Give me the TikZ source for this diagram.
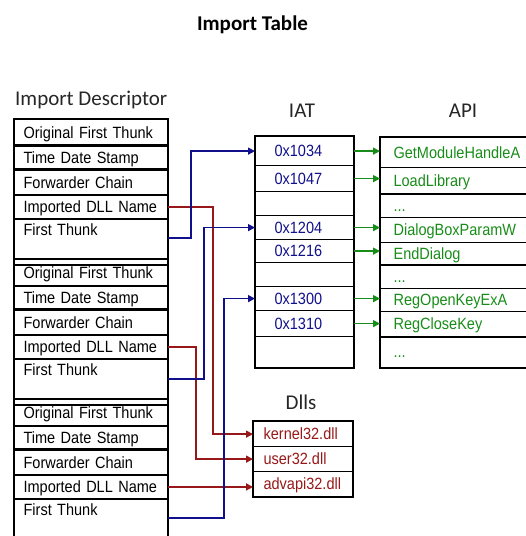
\documentclass[tikz,border=0pt]{standalone}
\usepackage{fontspec}
\usepackage{tikz}
\usetikzlibrary{arrows.meta}
\newfontfamily\cellfont[FakeStretch=0.89]{Liberation Sans}
\newfontfamily\headfont{Carlito}
\definecolor{thunkblue}{RGB}{16,16,140}
\definecolor{namered}{RGB}{150,24,24}
\definecolor{ptrgreen}{RGB}{24,140,24}
\newcommand{\apimore}{...}

\begin{document}
\begin{tikzpicture}[x=1bp,y=-1bp,
  cell/.style={draw,line width=1.2bp,anchor=north west,inner ysep=0pt,align=left,
    text height=11.7bp,text depth=0pt,font=\cellfont\fontsize{16.3bp}{18bp}\selectfont},
  field/.style={cell,text width=135bp,inner xsep=9bp},
  slot/.style={cell,text width=60bp,inner xsep=19bp,text=thunkblue},
  entry/.style={cell,text width=150bp,inner xsep=13bp,text=ptrgreen},
  lib/.style={cell,text width=79bp,inner xsep=10bp,text=namered},
  frame/.style={draw,line width=2.2bp},
  heading/.style={font=\headfont\fontsize{21bp}{24bp}\selectfont,text=black!85,anchor=base,inner sep=0pt},
  thunk/.style={draw=thunkblue,line width=1.5bp,-{Triangle[length=7bp,width=7bp]}},
  dllref/.style={thunk,draw=namered},
  ptr/.style={thunk,draw=ptrgreen}]
\useasboundingbox (0,0) rectangle (526,536);
\clip (0,0) rectangle (526,536);
\node[heading,font=\headfont\bfseries\fontsize{21bp}{24bp}\selectfont,text=black] (title) at (252.5,31) {Import Table};
\node[heading,anchor=base west] (desclabel) at (15,106) {Import Descriptor};
\node[heading] (iatlabel) at (302,118) {IAT};
\node[heading] (apilabel) at (463,118) {API};
\node[heading] (dlllabel) at (301,409) {Dlls};
% import descriptors
\foreach \b/\top in {1/119,2/259,3/399} {
  \node[field,minimum height=25.5bp] (oft\b) at (14,\top) {Original First Thunk};
  \node[field,minimum height=22.5bp] (tds\b) at (oft\b.south west) {Time Date Stamp};
  \node[field,minimum height=24.5bp] (fwc\b) at (tds\b.south west) {Forwarder Chain};
  \node[field,minimum height=22.5bp] (dln\b) at (fwc\b.south west) {Imported DLL Name};
  \node[field,minimum height=45bp,text depth=23.8bp] (ft\b) at (dln\b.south west) {First Thunk};
  \draw[frame] (oft\b.north west) rectangle (ft\b.south east);
}
% IAT
\foreach \t/\h/\s [count=\i] in {136/29/0x1034,165/26/0x1047,191/24/{},215/24/0x1204,
    239/23/0x1216,262/24/{},286/24/0x1300,310/26/0x1310,336/31/{}}
  \node[slot,minimum height=\h bp] (iat\i) at (255,\t) {\s};
\draw[frame] (iat1.north west) rectangle (iat9.south east);
% API
\foreach \t/\h/\s [count=\i] in {137/30/GetModuleHandleA,167/26/LoadLibrary,193/24/\apimore,
    217/25/DialogBoxParamW,242/22/EndDialog,264/24/\apimore,288/23/RegOpenKeyExA,
    311/25/RegCloseKey,336/31/\apimore}
  \node[entry,minimum height=\h bp] (api\i) at (380,\t) {\s};
\draw[frame] (api1.north west) rectangle (api9.south east);
\foreach \i in {2,5,8}
  \draw[frame] (api\i.south west) -- (api\i.south east);
% Dlls
\foreach \t/\s [count=\i] in {421/kernel32.dll,446/user32.dll,471/advapi32.dll}
  \node[lib,minimum height=25bp] (dll\i) at (253,\t) {\s};
\draw[frame] (dll1.north west) rectangle (dll3.south east);
% connectors
\draw[dllref] (dln1.east) -- ++(45,0) |- (dll1.west);
\draw[dllref] (dln2.east) -- ++(28,0) |- (dll2.west);
\draw[dllref] (dln3.east) -- (dln3.east -| dll3.west);
\draw[thunk] ([yshift=4bp]ft1.east) -- ++(23,0) |- (iat1.west);
\draw[thunk] ([yshift=3bp]ft2.east) -- ++(36,0) |- (iat4.west);
\draw[thunk] ([yshift=4bp]ft3.east) -- ++(56,0) |- (iat7.west);
\foreach \i in {1,2,4,5,7,8}
  \draw[ptr] (iat\i.east) -- (iat\i.east -| api\i.west);
\end{tikzpicture}
\end{document}
